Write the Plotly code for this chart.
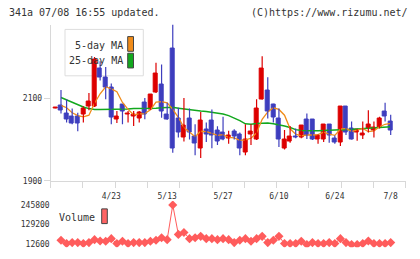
import plotly.graph_objects as go

# ---------------- data ----------------
days = list(range(-1, 60))
opens = [2076, 2082, 2063, 2055, 2057, 2060, 2080, 2081, 2172, 2151, 2125,
         2049, 2085, 2060, 2057, 2051, 2090, 2073, 2114, 2134, 2060,
         2222, 2051, 2005, 2051, 2008, 1979, 2024, 2045, 2021, 2017,
         2003, 2020, 2013, 1968, 2013, 2000, 2098, 2120, 2086, 2051,
         1979, 1994, 2008, 2004, 2048, 2048, 1999, 1999, 2036, 2003,
         1992, 2079, 2027, 2017, 2010, 2027, 2023, 2029, 2069, 2044]
highs = [2077, 2120, 2098, 2075, 2065, 2081, 2113, 2200, 2190, 2176, 2136,
         2069, 2086, 2069, 2069, 2069, 2101, 2110, 2186, 2182, 2089,
         2279, 2077, 2101, 2075, 2037, 2067, 2041, 2073, 2032, 2055,
         2021, 2025, 2017, 2037, 2037, 2098, 2202, 2151, 2087, 2075,
         2023, 2033, 2027, 2035, 2063, 2049, 2012, 2037, 2037, 2010,
         2080, 2080, 2044, 2025, 2044, 2071, 2044, 2055, 2089, 2060]
lows = [2076, 2063, 2041, 2037, 2020, 2041, 2071, 2079, 2143, 2098, 2037,
        2040, 2037, 2041, 2033, 2041, 2049, 2072, 2113, 2053, 2048,
        1968, 2005, 1995, 2000, 1962, 1955, 1994, 1979, 1987, 1998,
        1990, 2000, 1962, 1962, 1987, 1999, 2097, 2051, 2041, 1982,
        1976, 1992, 2003, 2003, 2001, 1999, 1990, 1994, 1992, 1990,
        1984, 2011, 2000, 1997, 2001, 2017, 2005, 2027, 2044, 2011]
closes = [2077, 2071, 2049, 2039, 2040, 2075, 2093, 2194, 2151, 2125, 2053,
          2055, 2067, 2063, 2061, 2065, 2061, 2109, 2160, 2067, 2049,
          1979, 2017, 2033, 2017, 1990, 2045, 2011, 2010, 1994, 1999,
          2010, 2008, 1978, 2000, 2020, 2075, 2172, 2067, 2053, 2000,
          2001, 2008, 2004, 2034, 2010, 2001, 2010, 2036, 2010, 1992,
          2079, 2017, 2001, 2024, 2015, 2036, 2029, 2052, 2055, 2023]
ma5 = [None, 2083, 2077, 2065, 2058, 2055, 2059, 2088, 2111, 2128, 2123,
       2116, 2090, 2073, 2060, 2062, 2063, 2072, 2091, 2092, 2089,
       2073, 2054, 2029, 2019, 2007, 2020, 2019, 2015, 2010, 2012,
       2005, 2004, 1998, 1999, 2003, 2016, 2049, 2067, 2077, 2073,
       2059, 2026, 2013, 2009, 2011, 2011, 2012, 2018, 2013, 2010,
       2025, 2027, 2020, 2023, 2027, 2019, 2021, 2031, 2037, 2039]
ma25 = [None, 2102, 2096, 2090, 2084, 2079, 2075, 2073, 2073, 2073, 2073,
        2073, 2074, 2074, 2075, 2075, 2075, 2075, 2076, 2077, 2078,
        2078, 2076, 2074, 2073, 2071, 2069, 2068, 2066, 2064, 2062,
        2058, 2052, 2046, 2038, 2037, 2039, 2040, 2040, 2038, 2036,
        2033, 2029, 2024, 2022, 2021, 2021, 2021, 2022, 2022, 2023,
        2024, 2024, 2025, 2026, 2027, 2028, 2029, 2030, 2031, 2031]
volumes = [None, 34160, 14560, 20440, 20440, 14560, 20440, 38080, 30240, 28280, 43960,
           14560, 28280, 14560, 20440, 20440, 20440, 28280, 34160, 49840, 38080,
           245800, 69440, 81200, 43960, 49840, 57680, 43960, 43960, 38080, 43960,
           38080, 20440, 34160, 43960, 28280, 43960, 57680, 20440, 34160, 57680,
           14560, 14560, 14560, 28280, 8680, 20440, 14560, 14560, 20440, 14560,
           43960, 20440, 8680, 8680, 14560, 30240, 14560, 14560, 14560, 20440]
tick_pos = [9, 19, 29, 39, 49, 59]
tick_labels = ["4/23", "5/13", "5/27", "6/10", "6/24", "7/8"]
vol_ticks = [12600, 129200, 245800]

RED = "#dd0000"
BLUE = "#3e3ebe"
ORANGE = "#f08c1a"
GREEN = "#12a81e"
VOLC = "#ff5c5c"
FONT = "DejaVu Sans Mono"
W, H = 420, 259


def px(x):
    return x / W


def py(y):
    return 1 - y / H


fig = go.Figure()

# moving averages (behind candles)
fig.add_trace(go.Scatter(x=days, y=ma25, mode="lines", line=dict(color=GREEN, width=1.5),
                         hoverinfo="skip", showlegend=False, connectgaps=False))
fig.add_trace(go.Scatter(x=days, y=ma5, mode="lines", line=dict(color=ORANGE, width=1.3),
                         hoverinfo="skip", showlegend=False, connectgaps=False))

for up, col in [(True, RED), (False, BLUE)]:
    sel = [k for k in range(len(days)) if (closes[k] > opens[k]) == up]
    wx, wy = [], []
    for k in sel:
        wx += [days[k], days[k], None]
        wy += [highs[k], lows[k], None]
    fig.add_trace(go.Scatter(x=wx, y=wy, mode="lines", line=dict(color=col, width=1.2),
                             hoverinfo="skip", showlegend=False))
    fig.add_trace(go.Bar(x=[days[k] for k in sel],
                         base=[min(opens[k], closes[k]) for k in sel],
                         y=[max(abs(closes[k] - opens[k]), 0.8) for k in sel],
                         width=0.72, marker=dict(color=col, line=dict(color=col, width=1)),
                         showlegend=False, hoverinfo="skip"))

# volume
fig.add_trace(go.Scatter(x=days, y=volumes, mode="lines+markers",
                         line=dict(color=VOLC, width=1),
                         marker=dict(symbol="diamond", size=7, color=VOLC),
                         xaxis="x3", yaxis="y3", showlegend=False, hoverinfo="skip"))

# invisible trace to activate x2 (tick marks)
fig.add_trace(go.Scatter(x=[0], y=[None], xaxis="x2", yaxis="y", showlegend=False,
                         hoverinfo="skip"))

xl, xr = 50.7, 405.7
c0, step = 61.0, 5.588
xrange = [-1 + (xl - c0) / step + 1, (xr - c0) / step]
ytop, ybot = 25.0, 184.3
vtop, vbot = 205.0, 252.0
vscale = (245800 - 12600) / (248.7 - 209.0)
vrange = [12600 - (vbot - 248.7) * vscale, 245800 + (209.0 - vtop) * vscale]

fig.update_layout(
    width=W, height=H, margin=dict(l=0, r=0, t=0, b=0),
    paper_bgcolor="white", plot_bgcolor="white",
    barmode="overlay", bargap=0,
    font=dict(family=FONT, size=8, color="#333333"),
    xaxis=dict(domain=[px(xl), px(xr)], range=xrange, anchor="y",
               tickmode="array", tickvals=tick_pos, ticktext=tick_labels,
               ticks="outside", ticklen=8, tickcolor="rgba(0,0,0,0)",
               showgrid=False, zeroline=False, showline=True, linecolor="#d8d8d8",
               linewidth=1, tickfont=dict(size=8, family=FONT, color="#333333")),
    xaxis2=dict(domain=[px(xl), px(xr)], range=[0, 11], overlaying="x", anchor="y",
                tickmode="linear", tick0=0, dtick=1, ticks="outside", ticklen=6,
                tickcolor="#d8d8d8", showticklabels=False, showgrid=False,
                zeroline=False, showline=False, side="bottom"),
    yaxis=dict(domain=[py(ybot), py(ytop)], range=[1900, 2279],
               tickmode="array", tickvals=[1900, 2100], ticktext=["1900", "2100"],
               ticks="outside", ticklen=6, tickcolor="#d8d8d8",
               showgrid=False, zeroline=False, showline=True, linecolor="#d8d8d8",
               linewidth=1, tickfont=dict(size=8, family=FONT, color="#333333")),
    xaxis3=dict(domain=[px(xl), px(xr)], range=xrange, anchor="y3",
                showticklabels=False, ticks="", showgrid=False, zeroline=False,
                showline=False),
    yaxis3=dict(domain=[py(vbot), py(vtop)], range=vrange,
                tickmode="array", tickvals=vol_ticks, ticktext=[str(v) for v in vol_ticks],
                ticks="", showgrid=False, zeroline=False, showline=False,
                tickfont=dict(size=8, family=FONT, color="#333333")),
)

shapes = [
    dict(type="rect", xref="paper", yref="paper", x0=px(65), x1=px(143.3),
         y0=py(77.3), y1=py(30), line=dict(color="#dddddd", width=1),
         fillcolor="rgba(0,0,0,0)", layer="below"),
    dict(type="rect", xref="paper", yref="paper", x0=px(127.7), x1=px(133.5),
         y0=py(52.3), y1=py(37.3), line=dict(color="#444444", width=1),
         fillcolor=ORANGE),
    dict(type="rect", xref="paper", yref="paper", x0=px(127.7), x1=px(133.5),
         y0=py(69.3), y1=py(54.3), line=dict(color="#444444", width=1),
         fillcolor=GREEN),
    dict(type="rect", xref="paper", yref="paper", x0=px(101.7), x1=px(107.3),
         y0=py(228), y1=py(213), line=dict(color="#444444", width=1),
         fillcolor="#ff6464"),
]
fig.update_layout(shapes=shapes)

def ann(text, x, y, anchor, size=10):
    return dict(text=text, x=px(x), y=py(y), xref="paper", yref="paper",
                xanchor=anchor, yanchor="middle", showarrow=False,
                font=dict(family=FONT, size=size, color="#333333"))

fig.update_layout(annotations=[
    ann("341a 07/08 16:55 updated.", 7, 13, "left"),
    ann("(C)https://www.rizumu.net/", 410, 13, "right"),
    ann("5-day MA", 125, 46, "right"),
    ann("25-day MA", 125, 61.7, "right"),
    ann("Volume", 57, 222, "left"),
])

fig.write_html("out.html")
